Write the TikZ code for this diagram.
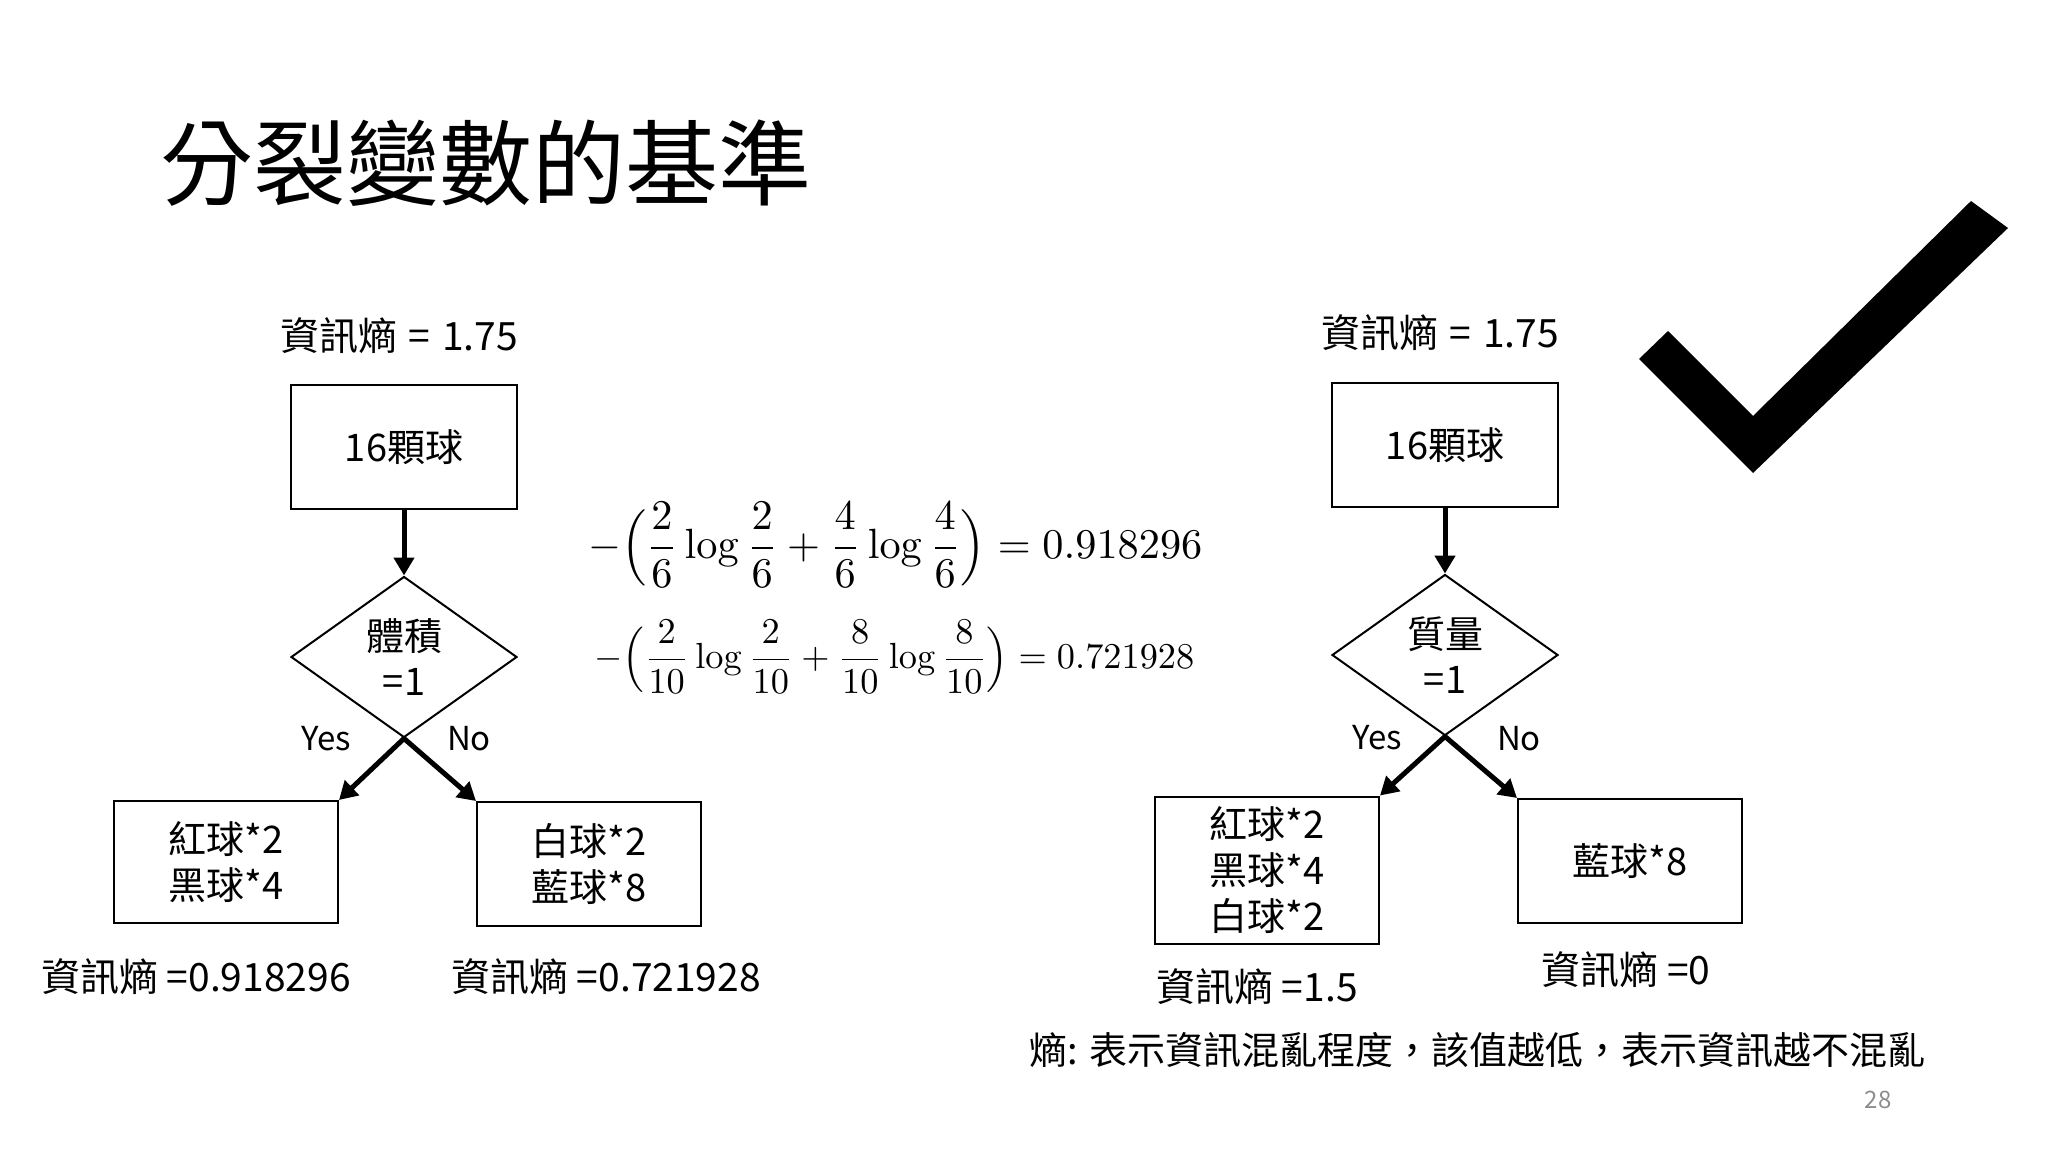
\documentclass[tikz,border=0pt]{standalone}
\usepackage[no-math]{fontspec}
\usepackage{graphicx}
\setmainfont{Noto Sans CJK TC}
\usetikzlibrary{arrows.meta,shapes.geometric}
\begin{document}
\begin{tikzpicture}[x=1pt,y=-1pt,
  lbl/.style={font=\fontsize{39}{46}\selectfont, inner sep=0pt, anchor=center},
  box/.style={draw, line width=2pt, inner sep=0pt, align=center, font=\fontsize{38}{46}\selectfont},
  dia/.style={draw, diamond, line width=2pt, inner sep=0pt, align=center, font=\fontsize{38}{45}\selectfont, minimum width=226pt, minimum height=161pt},
  arr/.style={line width=5pt, -{Triangle[length=18pt,width=20pt]}},
  yn/.style={font=\fontsize{33}{40}\selectfont, inner sep=0pt},
  formula/.style={inner sep=0pt, anchor=west}]
\fill[white] (0,0) rectangle (2048,1152);
\useasboundingbox (0,0) rectangle (2048,1152);

% title
\node[anchor=west, inner sep=0pt, font=\fontsize{93}{100}\selectfont] (title) at (160,163) {分裂變數的基準};

% left tree
\node[lbl] (lent) at (399,336) {資訊熵\hspace{0.3em}=\hspace{0.3em}1.75};
\node[box, minimum width=226pt, minimum height=124pt] (lroot) at (404,447) {16顆球};
\node[dia] (ldia) at (404,657) {體積\\=1};
\node[box, minimum width=224pt, minimum height=122pt] (lyes) at (226,862) {紅球*2\\黑球*4};
\node[box, minimum width=224pt, minimum height=124pt] (lno) at (589,864) {白球*2\\藍球*8};
\draw[arr] (lroot.south) -- (ldia.north);
\draw[arr] (ldia.south) -- (lyes.north east);
\draw[arr] (ldia.south) -- (lno.north west);
\node[yn] (lyeslbl) at (326,739) {Yes};
\node[yn] (lnolbl) at (469,739) {No};
\node[lbl] (lyesent) at (196,977) {資訊熵 =0.918296};
\node[lbl] (lnoent) at (606,977) {資訊熵 =0.721928};

% formulas
\node[formula] (f1) at (588,545) {\resizebox{614pt}{!}{$\displaystyle -\Bigl(\frac{2}{6}\log\frac{2}{6}+\frac{4}{6}\log\frac{4}{6}\Bigr)=0.918296$}};
\node[formula] (f2) at (594,657) {\resizebox{600pt}{!}{$\displaystyle -\Bigl(\frac{2}{10}\log\frac{2}{10}+\frac{8}{10}\log\frac{8}{10}\Bigr)=0.721928$}};

% right tree
\node[lbl] (rent) at (1440,333) {資訊熵\hspace{0.3em}=\hspace{0.3em}1.75};
\node[box, minimum width=226pt, minimum height=124pt] (rroot) at (1445,445) {16顆球};
\node[dia] (rdia) at (1445,655) {質量\\=1};
\node[box, minimum width=224pt, minimum height=147pt] (ryes) at (1267,870) {紅球*2\\黑球*4\\白球*2};
\node[box, minimum width=224pt, minimum height=124pt] (rno) at (1630,861) {藍球*8};
\draw[arr] (rroot.south) -- (rdia.north);
\draw[arr] (rdia.south) -- (ryes.north east);
\draw[arr] (rdia.south) -- (rno.north west);
\node[yn] (ryeslbl) at (1377,738) {Yes};
\node[yn] (rnolbl) at (1519,739) {No};
\node[lbl] (ryesent) at (1257,987) {資訊熵 =1.5};
\node[lbl] (rnoent) at (1626,970) {資訊熵 =0};

% check mark
\fill[black] (1639,359) -- (1668,331) -- (1753,416) -- (1971,201) -- (2008,228) -- (1753,473) -- cycle;

% footer
\node[lbl, anchor=west, font=\fontsize{38}{46}\selectfont] (foot) at (1029,1050) {熵: 表示資訊混亂程度，該值越低，表示資訊越不混亂};
\node[inner sep=0pt, text=black!45, font=\fontsize{24}{28}\selectfont] (pnum) at (1878,1100) {28};
\end{tikzpicture}
\end{document}
